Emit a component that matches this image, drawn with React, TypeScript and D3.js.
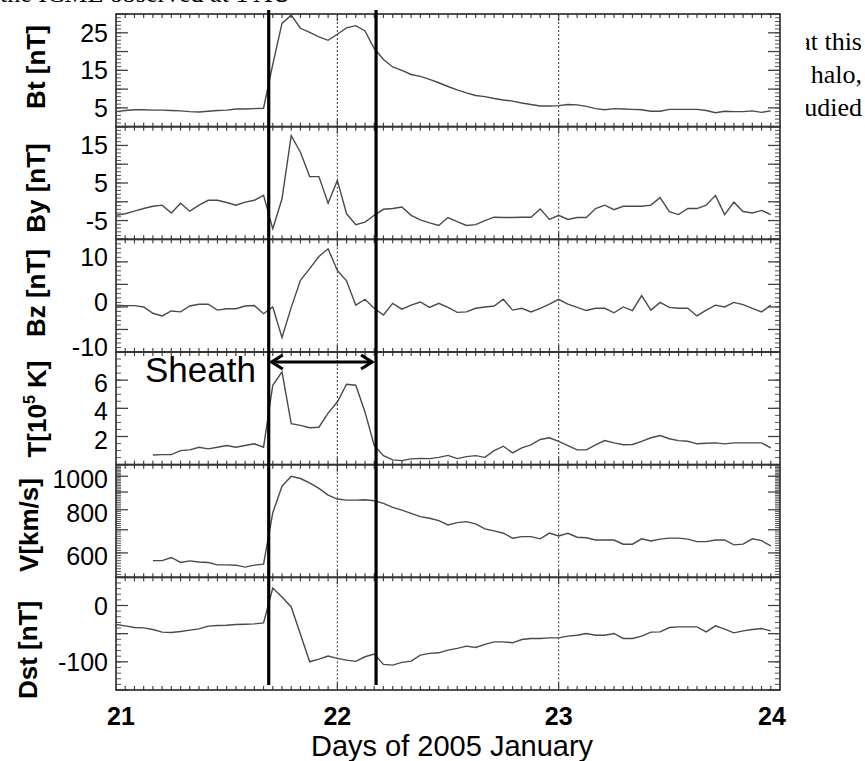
import React from 'react';
import * as d3 from 'd3';

const WIDTH = 865, HEIGHT = 761;
const LEFT = 116, RIGHT = 780, TOP = 14, BOTTOM = 690;

// days of 2005 January
const dayTicks = [21, 22, 23, 24];
const dayNudge = [5, 0, 0, -8];
const dottedDays = [22, 23];
const sheath = [21.69, 22.175];

// hourly values, hour 0 = Jan 21 00 UT
const btValues = [4.0, 4.3, 4.5, 4.5, 4.4, 4.4, 4.3, 4.2, 4.0, 3.9, 4.1, 4.3, 4.4, 4.7, 4.7, 4.8, 4.9,
  16.6, 27.5, 29.7, 26.2, 25.1, 23.9, 23.0, 24.6, 26.3, 26.9, 25.5, 20.8, 17.9, 15.9, 15.0, 13.9, 13.4, 12.6, 11.7,
  10.7, 9.8, 9.0, 8.3, 8.0, 7.5, 7.1, 6.8, 6.3, 5.9, 5.5, 5.5, 5.6, 5.9, 5.8, 5.4, 4.8, 4.5, 4.8, 4.7, 4.6, 4.5,
  4.1, 4.1, 4.6, 4.6, 4.6, 4.6, 4.3, 3.7, 4.1, 4.0, 4.0, 4.2, 3.8, 4.2];

const byValues = [-3.6, -3.2, -2.5, -1.8, -1.2, -0.9, -3.0, -0.4, -2.5, -0.9, 0.4, 0.4, -0.2, -0.9, -0.1, 0.4, 1.7,
  -7.2, 0.8, 17.6, 13.2, 6.7, 6.7, -0.4, 5.7, -3.2, -6.1, -5.4, -3.6, -2.0, -1.8, -1.4, -3.6, -4.8, -5.6, -6.3,
  -4.2, -5.3, -6.3, -6.1, -5.0, -4.1, -4.2, -4.2, -4.1, -4.1, -1.9, -4.7,
  -3.6, -4.7, -4.2, -4.2, -1.8, -0.9, -2.1, -1.2, -1.2, -1.2, -0.9, 1.1, -2.6, -3.4, -1.8, -1.8, -0.9, 1.7,
  -3.4, -0.1, -2.6, -3.0, -2.3, -3.4];

const bzValues = [0.4, 0.3, 0.3, 0.0, -1.4, -2.0, -0.9, -1.1, 0.2, 0.6, 0.6, -0.7, -0.4, -0.4, 0.2, 0.3, -1.5,
  0.0, -6.8, -0.1, 5.9, 8.5, 11.2, 12.9, 8.1, 5.8, 0.4, 1.7, -0.3, -1.8, 0.8, -0.5, 0.4, 1.1, -0.1, 0.8, -0.1,
  -1.2, -1.1, -0.3, 0.0, 0.2, 1.7, -0.7, -0.3, -1.1, -0.3, 0.6, 1.7,
  0.6, -0.1, -0.8, -0.3, -0.3, -1.3, 0.0, -0.8, 2.5, -0.7, 1.0, -0.1, -0.3, -0.3, -2.0, -0.7, 0.4, 0.0, 1.0,
  0.5, -0.3, -1.1, 0.4];

// T in 1e5 K, no data for the first four hours
const tValues = [null, null, null, null, 0.69, 0.71, 0.71, 1.0, 1.05, 1.24, 1.12, 1.24, 1.36, 1.24, 1.36, 1.48, 1.24,
  5.64, 6.59, 2.91, 2.79, 2.62, 2.66, 3.66, 4.45, 5.71, 5.64, 3.74, 1.36, 0.64, 0.34, 0.29, 0.41, 0.45, 0.43, 0.52,
  0.66, 0.43, 0.57, 0.64, 0.52, 1.0, 1.31, 0.84, 1.19, 1.41, 1.79, 1.91, 1.66,
  1.36, 1.05, 1.05, 1.41, 1.71, 1.55, 1.41, 1.43, 1.66, 1.91, 2.07, 1.84, 1.71, 1.66, 1.48, 1.52, 1.55, 1.48,
  1.55, 1.55, 1.55, 1.55, 1.19];

const vValues = [null, null, null, null, 570, 570, 582, 563, 569, 565, 563, 554, 554, 553, 546, 553, 557,
  784, 936, 1000, 985, 957, 922, 882, 859, 853, 853, 855, 849, 835, 813, 798, 781, 764, 756, 744, 723, 734,
  739, 728, 704, 695, 684, 662, 669, 669, 659, 685, 672,
  684, 666, 664, 654, 654, 654, 636, 636, 659, 650, 658, 662, 662, 658, 647, 647, 654, 654, 633, 636, 659, 651, 629];

const dstValues = [-33.7, -36.1, -39.1, -39.7, -42.6, -47.3, -47.9, -46.1, -43.8, -41.5, -36.7, -35.5, -35.0, -33.7,
  -33.2, -32.6, -30.8,
  31.1, 15.1, -2.5, -50.9, -99.9, -95.1, -89.8, -93.9, -96.9, -99.2, -91.0, -86.3, -104.5, -105.8, -101.0, -98.7,
  -88.0, -85.0, -84.0, -79.2, -76.2, -72.1, -74.4, -69.1, -64.5, -64.5, -66.2, -60.3, -58.5, -58.5, -57.4, -57.4,
  -54.4, -52.7, -49.6, -52.7, -52.7, -49.6, -58.5, -58.5, -54.4, -47.3, -46.8, -39.1, -37.9, -37.9, -37.9, -46.8,
  -36.1, -42.0, -48.6, -45.0, -42.6, -40.8, -45.0];

const panelTitles = ['Bt [nT]', 'By [nT]', 'Bz [nT]', 'T', 'V[km/s]', 'Dst [nT]'];
const panelDomains = [[0, 30], [-10, 20], [-10, 15], [0, 8], [510, 1080], [-150, 50]];
const panelLabels = [[5, 15, 25], [-5, 5, 15], [-10, 0, 10], [2, 4, 6], [600, 800, 1000], [-100, 0]];
const panelMajor = [5, 5, 5, 2, 100, 50];
const panelMinor = [1, 1, 1, 0.5, 10, 10];
const panelSeries = [btValues, byValues, bzValues, tValues, vValues, dstValues];

const paperTop = 'the ICME observed at 1 AU';
const paperLines = ['that this', 'the halo,', 'studied'];

const x = d3.scaleLinear().domain([21, 24]).range([LEFT, RIGHT]);
const hourX = (i: number) => x(21 + i / 24);
const panelH = (BOTTOM - TOP) / panelTitles.length;

function Panel({ idx }: { idx: number }) {
  const y0 = TOP + idx * panelH, y1 = y0 + panelH;
  const dom = panelDomains[idx];
  const isLog = idx === 4;
  const y: any = (isLog ? d3.scaleLog() : d3.scaleLinear()).domain([dom[0], dom[1]]).range([y1, y0]);
  const step = panelMinor[idx];
  const minor = d3.range(Math.ceil(dom[0] / step) * step, dom[1] + 1e-6, step);
  const major = minor.filter(v => Math.abs(v / panelMajor[idx] - Math.round(v / panelMajor[idx])) < 1e-6);
  const line = d3.line<number | null>()
    .defined(d => d != null)
    .x((d, i) => hourX(i))
    .y(d => y(d as number));
  const labelDy = idx === 2 ? -5 : (idx === 3 || idx === 4) ? 3 : 0;
  const hours = d3.range(1, 72);

  return (
    <g>
      {minor.map((v, i) => (
        <g key={'m' + i} stroke="#555" strokeWidth={1}>
          <line x1={LEFT} x2={LEFT + 5} y1={y(v)} y2={y(v)} />
          <line x1={RIGHT} x2={RIGHT - 5} y1={y(v)} y2={y(v)} />
        </g>
      ))}
      {major.map((v, i) => (
        <g key={'M' + i} stroke="#444" strokeWidth={1.3}>
          <line x1={LEFT} x2={LEFT + 12} y1={y(v)} y2={y(v)} />
          <line x1={RIGHT} x2={RIGHT - 12} y1={y(v)} y2={y(v)} />
        </g>
      ))}
      {hours.map(h => (
        <g key={'h' + h} stroke="#444" strokeWidth={1.2}>
          <line x1={hourX(h)} x2={hourX(h)} y1={y0} y2={y0 + (h % 24 === 0 ? 7 : 4)} />
          <line x1={hourX(h)} x2={hourX(h)} y1={y1} y2={y1 - (h % 24 === 0 ? 7 : 4)} />
        </g>
      ))}
      {dottedDays.map(d => (
        <line key={'d' + d} x1={x(d)} x2={x(d)} y1={y0} y2={y1} stroke="#333" strokeWidth={1} strokeDasharray="2,2" />
      ))}
      <rect x={LEFT} y={y0} width={RIGHT - LEFT} height={panelH} fill="none" stroke="#333" strokeWidth={1.7} />
      <path d={line(panelSeries[idx] as (number | null)[]) || ''} fill="none" stroke="#4a4a4a" strokeWidth={1.4} />
      {panelLabels[idx].map(v => (
        <text key={'l' + v} x={108} y={y(v) + labelDy} textAnchor="end" dominantBaseline="central"
          fontFamily="Arial, 'Liberation Sans', sans-serif" fontSize={25} fill="#000">{v}</text>
      ))}
    </g>
  );
}

function Title({ idx }: { idx: number }) {
  const yc = [67, 188, 293, 409, 525, 650][idx];
  const xb = [45, 45, 45, 46, 38, 37][idx];
  const common = {
    x: xb, y: yc, textAnchor: 'middle' as const, transform: `rotate(-90, ${xb}, ${yc})`,
    fontFamily: "Arial, 'Liberation Sans', sans-serif", fontWeight: 'bold' as const, fontSize: 26, fill: '#000',
  };
  if (idx === 3) {
    return (
      <text {...common}>T[10<tspan fontSize={16} dy={-11}>5</tspan><tspan dy={11}> K]</tspan></text>
    );
  }
  return <text {...common}>{panelTitles[idx]}</text>;
}

export default function App() {
  const sx0 = x(sheath[0]), sx1 = x(sheath[1]);
  const ay = 362;
  return (
    <svg width={WIDTH} height={HEIGHT} style={{ position: 'absolute', left: 0, top: 0, background: '#fff' }}
      xmlns="http://www.w3.org/2000/svg">
      {/* surrounding paper text, mostly hidden behind the figure */}
      <text x={0} y={1.5} fontFamily="'Liberation Serif', 'Times New Roman', serif" fontSize={26} fill="#000">
        {paperTop}</text>
      {paperLines.map((s, i) => (
        <text key={s} x={862} y={50 + i * 33} textAnchor="end"
          fontFamily="'Liberation Serif', 'Times New Roman', serif" fontSize={26} fill="#000">{s}</text>
      ))}
      <rect x={0} y={4} width={806} height={HEIGHT - 4} fill="#fff" />

      {panelTitles.map((t, i) => <Panel key={t} idx={i} />)}
      {panelTitles.map((t, i) => <Title key={'t' + t} idx={i} />)}

      {sheath.map(d => (
        <line key={'s' + d} x1={x(d)} x2={x(d)} y1={10} y2={685} stroke="#000" strokeWidth={3.2} />
      ))}
      <g stroke="#000" strokeWidth={3.2} fill="none">
        <line x1={sx0 + 3} x2={sx1 - 4} y1={ay} y2={ay} />
        <path d={`M${sx0 + 14},${ay - 7} L${sx0 + 3},${ay} L${sx0 + 14},${ay + 7}`} />
        <path d={`M${sx1 - 15},${ay - 7} L${sx1 - 4},${ay} L${sx1 - 15},${ay + 7}`} />
      </g>
      <text x={145} y={382} fontFamily="Arial, 'Liberation Sans', sans-serif" fontSize={35} fill="#000">Sheath</text>

      {dayTicks.map((d, i) => (
        <text key={'x' + d} x={x(d) + dayNudge[i]} y={725} textAnchor="middle"
          fontFamily="Arial, 'Liberation Sans', sans-serif" fontWeight="bold" fontSize={25} fill="#000">{d}</text>
      ))}
      <text x={452} y={756} textAnchor="middle" fontFamily="Arial, 'Liberation Sans', sans-serif"
        fontSize={29} fill="#000">Days of 2005 January</text>
    </svg>
  );
}
